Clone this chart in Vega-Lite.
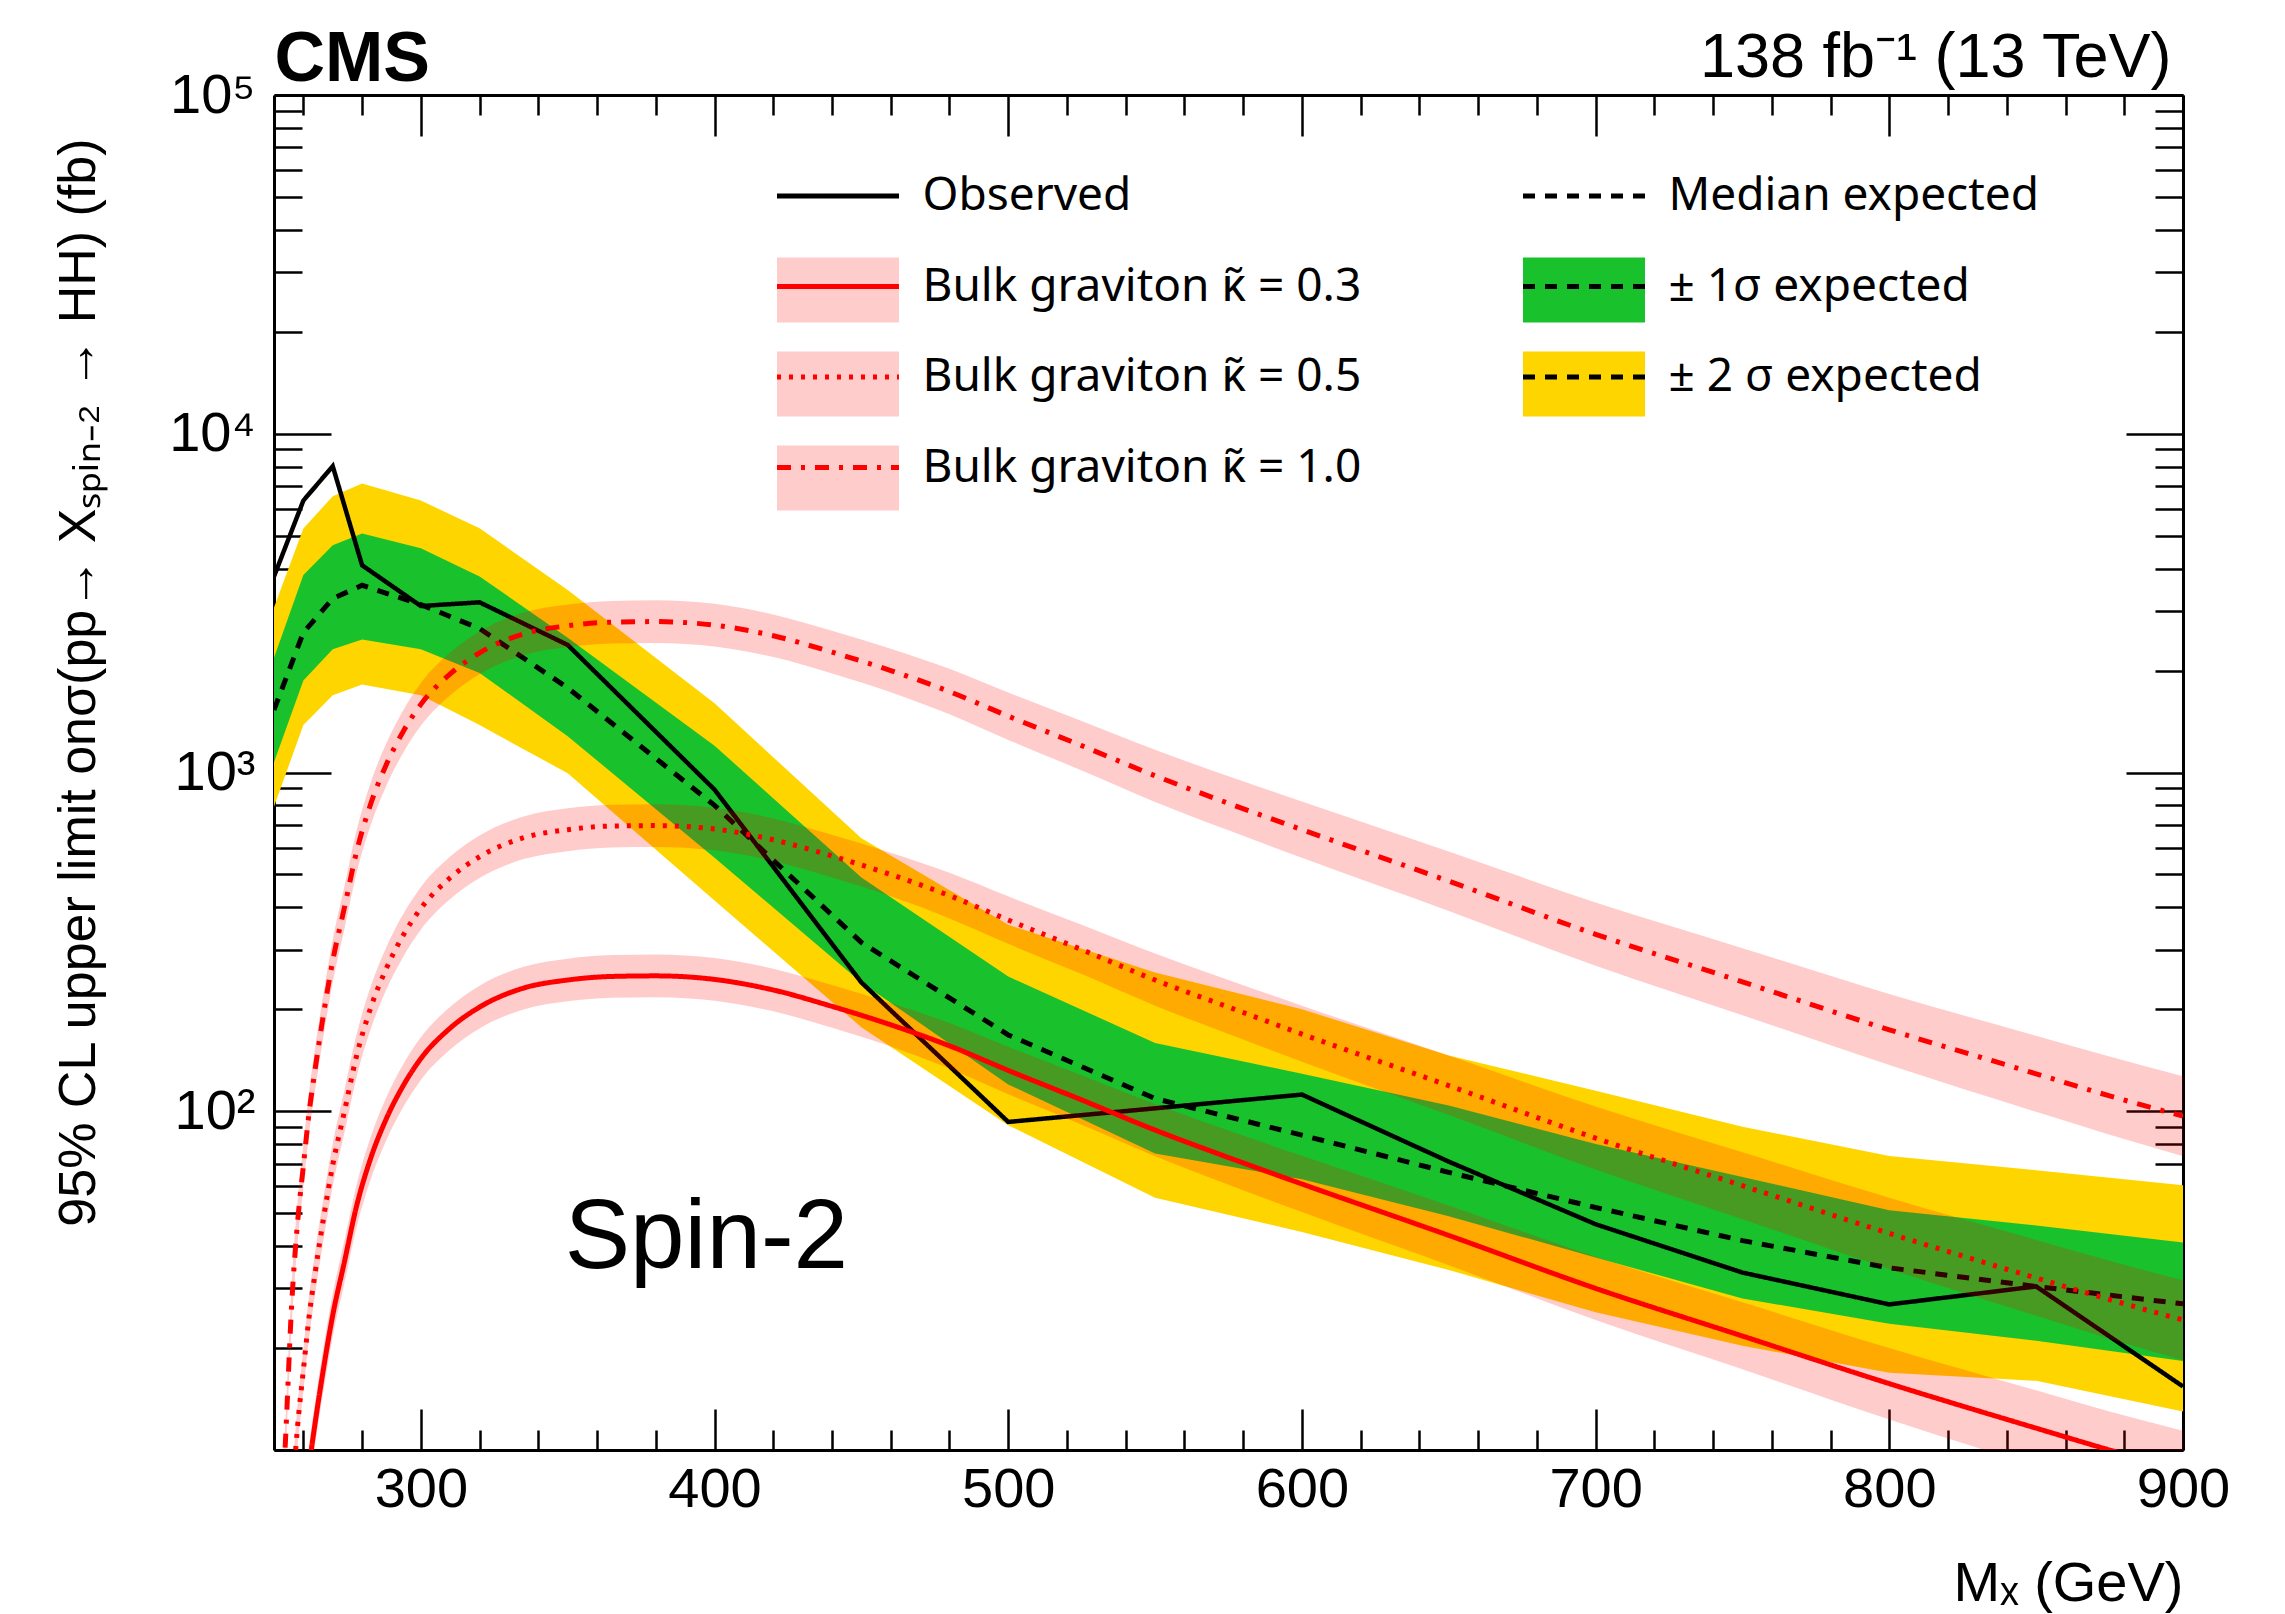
{
  "$schema": "https://vega.github.io/schema/vega-lite/v6.json",
  "width": 1909,
  "height": 1355,
  "autosize": {"type": "none"},
  "padding": {"left": 274, "top": 95, "right": 102, "bottom": 164},
  "background": "white",
  "config": {
    "view": {"stroke": null},
    "font": "Liberation Sans",
    "axis": {"grid": false, "domain": false, "domainColor": "black", "domainWidth": 3, "tickColor": "black", "tickWidth": 2.5, "labelColor": "black", "labelFont": "Liberation Sans", "labelFontSize": 56, "labelFlush": false, "labelOverlap": false, "titleFont": "Liberation Sans", "titleColor": "black", "titleFontWeight": "normal", "zindex": 1},
    "legend": {"labelFont": "Noto Sans", "labelFontSize": 46, "labelColor": "black", "labelLimit": 2000, "padding": 0, "title": null}
  },
  "datasets": {
    "exp": [
      {"m": 250, "lo2": 793, "lo1": 1073, "exp": 1530, "hi1": 2180, "hi2": 3070, "obs": 3790},
      {"m": 260, "lo2": 1380, "lo1": 1870, "exp": 2590, "hi1": 3830, "hi2": 5250, "obs": 6350},
      {"m": 270, "lo2": 1690, "lo1": 2310, "exp": 3260, "hi1": 4690, "hi2": 6540, "obs": 8020},
      {"m": 280, "lo2": 1820, "lo1": 2470, "exp": 3570, "hi1": 5080, "hi2": 7130, "obs": 4090},
      {"m": 300, "lo2": 1690, "lo1": 2310, "exp": 3130, "hi1": 4590, "hi2": 6350, "obs": 3100},
      {"m": 320, "lo2": 1380, "lo1": 1967, "exp": 2660, "hi1": 3790, "hi2": 5260, "obs": 3180},
      {"m": 350, "lo2": 995, "lo1": 1280, "exp": 1778, "hi1": 2500, "hi2": 3460, "obs": 2380},
      {"m": 400, "lo2": 419, "lo1": 560, "exp": 800, "hi1": 1200, "hi2": 1600, "obs": 890},
      {"m": 450, "lo2": 177, "lo1": 240, "exp": 315, "hi1": 490, "hi2": 640, "obs": 240},
      {"m": 500, "lo2": 91, "lo1": 120, "exp": 168, "hi1": 250, "hi2": 355, "obs": 93},
      {"m": 550, "lo2": 55.5, "lo1": 75, "exp": 109, "hi1": 159, "hi2": 257, "obs": 102},
      {"m": 600, "lo2": 44, "lo1": 63, "exp": 85, "hi1": 129, "hi2": 200, "obs": 112},
      {"m": 650, "lo2": 34, "lo1": 49, "exp": 66, "hi1": 104, "hi2": 146, "obs": 71},
      {"m": 700, "lo2": 25.5, "lo1": 37, "exp": 52, "hi1": 80, "hi2": 115, "obs": 46.4},
      {"m": 750, "lo2": 20.3, "lo1": 28, "exp": 41.5, "hi1": 64, "hi2": 90, "obs": 33.4},
      {"m": 800, "lo2": 16.9, "lo1": 23.6, "exp": 34.5, "hi1": 51, "hi2": 73.8, "obs": 26.9},
      {"m": 850, "lo2": 16, "lo1": 21, "exp": 30.4, "hi1": 46, "hi2": 67, "obs": 30.4},
      {"m": 900, "lo2": 13, "lo1": 18.3, "exp": 27, "hi1": 41, "hi2": 60.5, "obs": 15.4}
    ],
    "th": [
      {"m": 250, "k": "0.3", "xs": 0.15, "lo": 0.13, "hi": 0.173},
      {"m": 252, "k": "0.3", "xs": 0.45, "lo": 0.389, "hi": 0.52},
      {"m": 254, "k": "0.3", "xs": 1.0, "lo": 0.865, "hi": 1.156},
      {"m": 256, "k": "0.3", "xs": 2.4, "lo": 2.08, "hi": 2.77},
      {"m": 258, "k": "0.3", "xs": 4.2, "lo": 3.63, "hi": 4.86},
      {"m": 260, "k": "0.3", "xs": 6.2, "lo": 5.36, "hi": 7.17},
      {"m": 262, "k": "0.3", "xs": 9.0, "lo": 7.79, "hi": 10.4},
      {"m": 264, "k": "0.3", "xs": 12, "lo": 10.4, "hi": 13.9},
      {"m": 267, "k": "0.3", "xs": 17.7, "lo": 15.3, "hi": 20.5},
      {"m": 270, "k": "0.3", "xs": 25, "lo": 21.6, "hi": 28.9},
      {"m": 274, "k": "0.3", "xs": 36, "lo": 31.1, "hi": 41.6},
      {"m": 278, "k": "0.3", "xs": 52, "lo": 45.0, "hi": 60.1},
      {"m": 283, "k": "0.3", "xs": 73, "lo": 63.2, "hi": 84.4},
      {"m": 288, "k": "0.3", "xs": 94, "lo": 81.3, "hi": 108.7},
      {"m": 294, "k": "0.3", "xs": 119, "lo": 102.9, "hi": 137.6},
      {"m": 300, "k": "0.3", "xs": 143, "lo": 123.7, "hi": 165.3},
      {"m": 310, "k": "0.3", "xs": 176, "lo": 152.2, "hi": 203.5},
      {"m": 320, "k": "0.3", "xs": 203, "lo": 175.6, "hi": 234.7},
      {"m": 335, "k": "0.3", "xs": 231, "lo": 199.8, "hi": 267},
      {"m": 350, "k": "0.3", "xs": 244, "lo": 211.1, "hi": 282.1},
      {"m": 365, "k": "0.3", "xs": 250, "lo": 216.3, "hi": 289},
      {"m": 380, "k": "0.3", "xs": 251, "lo": 217.1, "hi": 290.2},
      {"m": 400, "k": "0.3", "xs": 245, "lo": 211.9, "hi": 283.2},
      {"m": 420, "k": "0.3", "xs": 228, "lo": 197.2, "hi": 263.6},
      {"m": 440, "k": "0.3", "xs": 204, "lo": 176.5, "hi": 235.8},
      {"m": 460, "k": "0.3", "xs": 180, "lo": 155.3, "hi": 208.6},
      {"m": 480, "k": "0.3", "xs": 156, "lo": 133.7, "hi": 182.1},
      {"m": 500, "k": "0.3", "xs": 132, "lo": 112.3, "hi": 155.1},
      {"m": 525, "k": "0.3", "xs": 108, "lo": 91.3, "hi": 127.8},
      {"m": 550, "k": "0.3", "xs": 88, "lo": 73.7, "hi": 105.1},
      {"m": 575, "k": "0.3", "xs": 73, "lo": 60.7, "hi": 87.7},
      {"m": 600, "k": "0.3", "xs": 61, "lo": 50.4, "hi": 73.9},
      {"m": 650, "k": "0.3", "xs": 43, "lo": 35.1, "hi": 52.7},
      {"m": 700, "k": "0.3", "xs": 30, "lo": 24.2, "hi": 37.2},
      {"m": 750, "k": "0.3", "xs": 21.7, "lo": 17.3, "hi": 27.3},
      {"m": 800, "k": "0.3", "xs": 15.7, "lo": 12.3, "hi": 20.0},
      {"m": 850, "k": "0.3", "xs": 11.6, "lo": 8.96, "hi": 15.0},
      {"m": 875, "k": "0.3", "xs": 10.0, "lo": 7.67, "hi": 13.0},
      {"m": 900, "k": "0.3", "xs": 8.7, "lo": 6.63, "hi": 11.4},
      {"m": 250, "k": "0.5", "xs": 0.417, "lo": 0.361, "hi": 0.482},
      {"m": 252, "k": "0.5", "xs": 1.25, "lo": 1.08, "hi": 1.445},
      {"m": 254, "k": "0.5", "xs": 2.78, "lo": 2.40, "hi": 3.21},
      {"m": 256, "k": "0.5", "xs": 6.67, "lo": 5.77, "hi": 7.71},
      {"m": 258, "k": "0.5", "xs": 11.67, "lo": 10.09, "hi": 13.49},
      {"m": 260, "k": "0.5", "xs": 17.2, "lo": 14.9, "hi": 19.9},
      {"m": 262, "k": "0.5", "xs": 25.0, "lo": 21.6, "hi": 28.9},
      {"m": 264, "k": "0.5", "xs": 33.3, "lo": 28.8, "hi": 38.5},
      {"m": 267, "k": "0.5", "xs": 49.2, "lo": 42.5, "hi": 56.8},
      {"m": 270, "k": "0.5", "xs": 69.4, "lo": 60.1, "hi": 80.3},
      {"m": 274, "k": "0.5", "xs": 100, "lo": 86.5, "hi": 115.6},
      {"m": 278, "k": "0.5", "xs": 144.4, "lo": 125, "hi": 167},
      {"m": 283, "k": "0.5", "xs": 203, "lo": 175.4, "hi": 234.4},
      {"m": 288, "k": "0.5", "xs": 261, "lo": 225.9, "hi": 301.9},
      {"m": 294, "k": "0.5", "xs": 331, "lo": 286, "hi": 382},
      {"m": 300, "k": "0.5", "xs": 397, "lo": 343.6, "hi": 459.2},
      {"m": 310, "k": "0.5", "xs": 489, "lo": 423, "hi": 565},
      {"m": 320, "k": "0.5", "xs": 564, "lo": 488, "hi": 652},
      {"m": 335, "k": "0.5", "xs": 642, "lo": 555, "hi": 742},
      {"m": 350, "k": "0.5", "xs": 678, "lo": 586, "hi": 784},
      {"m": 365, "k": "0.5", "xs": 695, "lo": 601, "hi": 803},
      {"m": 380, "k": "0.5", "xs": 697, "lo": 603, "hi": 806},
      {"m": 400, "k": "0.5", "xs": 681, "lo": 589, "hi": 787},
      {"m": 420, "k": "0.5", "xs": 633, "lo": 548, "hi": 732},
      {"m": 440, "k": "0.5", "xs": 567, "lo": 490, "hi": 655},
      {"m": 460, "k": "0.5", "xs": 500, "lo": 431, "hi": 580},
      {"m": 480, "k": "0.5", "xs": 433, "lo": 371, "hi": 506},
      {"m": 500, "k": "0.5", "xs": 367, "lo": 312, "hi": 431},
      {"m": 525, "k": "0.5", "xs": 300, "lo": 254, "hi": 355},
      {"m": 550, "k": "0.5", "xs": 244, "lo": 205, "hi": 292},
      {"m": 575, "k": "0.5", "xs": 203, "lo": 169, "hi": 244},
      {"m": 600, "k": "0.5", "xs": 169, "lo": 140, "hi": 205},
      {"m": 650, "k": "0.5", "xs": 119, "lo": 97.5, "hi": 146},
      {"m": 700, "k": "0.5", "xs": 83.3, "lo": 67.3, "hi": 103.3},
      {"m": 750, "k": "0.5", "xs": 60.3, "lo": 48.0, "hi": 75.7},
      {"m": 800, "k": "0.5", "xs": 43.6, "lo": 34.2, "hi": 55.5},
      {"m": 850, "k": "0.5", "xs": 32.2, "lo": 24.9, "hi": 41.7},
      {"m": 875, "k": "0.5", "xs": 27.8, "lo": 21.3, "hi": 36.2},
      {"m": 900, "k": "0.5", "xs": 24.2, "lo": 18.4, "hi": 31.7},
      {"m": 250, "k": "1.0", "xs": 1.67, "lo": 1.44, "hi": 1.93},
      {"m": 252, "k": "1.0", "xs": 5.0, "lo": 4.33, "hi": 5.78},
      {"m": 254, "k": "1.0", "xs": 11.1, "lo": 9.61, "hi": 12.84},
      {"m": 256, "k": "1.0", "xs": 26.7, "lo": 23.1, "hi": 30.8},
      {"m": 258, "k": "1.0", "xs": 46.7, "lo": 40.4, "hi": 53.9},
      {"m": 260, "k": "1.0", "xs": 68.9, "lo": 59.6, "hi": 79.6},
      {"m": 262, "k": "1.0", "xs": 100, "lo": 86.5, "hi": 115.6},
      {"m": 264, "k": "1.0", "xs": 133, "lo": 115.3, "hi": 154.1},
      {"m": 267, "k": "1.0", "xs": 197, "lo": 170, "hi": 227},
      {"m": 270, "k": "1.0", "xs": 278, "lo": 240, "hi": 321},
      {"m": 274, "k": "1.0", "xs": 400, "lo": 346, "hi": 462},
      {"m": 278, "k": "1.0", "xs": 578, "lo": 500, "hi": 668},
      {"m": 283, "k": "1.0", "xs": 811, "lo": 702, "hi": 938},
      {"m": 288, "k": "1.0", "xs": 1044, "lo": 903, "hi": 1207},
      {"m": 294, "k": "1.0", "xs": 1322, "lo": 1144, "hi": 1528},
      {"m": 300, "k": "1.0", "xs": 1589, "lo": 1374, "hi": 1837},
      {"m": 310, "k": "1.0", "xs": 1955, "lo": 1691, "hi": 2260},
      {"m": 320, "k": "1.0", "xs": 2255, "lo": 1951, "hi": 2607},
      {"m": 335, "k": "1.0", "xs": 2566, "lo": 2220, "hi": 2967},
      {"m": 350, "k": "1.0", "xs": 2711, "lo": 2345, "hi": 3134},
      {"m": 365, "k": "1.0", "xs": 2778, "lo": 2403, "hi": 3211},
      {"m": 380, "k": "1.0", "xs": 2789, "lo": 2412, "hi": 3224},
      {"m": 400, "k": "1.0", "xs": 2722, "lo": 2355, "hi": 3147},
      {"m": 420, "k": "1.0", "xs": 2533, "lo": 2191, "hi": 2928},
      {"m": 440, "k": "1.0", "xs": 2266, "lo": 1961, "hi": 2620},
      {"m": 460, "k": "1.0", "xs": 2000, "lo": 1726, "hi": 2318},
      {"m": 480, "k": "1.0", "xs": 1733, "lo": 1485, "hi": 2023},
      {"m": 500, "k": "1.0", "xs": 1467, "lo": 1248, "hi": 1723},
      {"m": 525, "k": "1.0", "xs": 1200, "lo": 1014, "hi": 1420},
      {"m": 550, "k": "1.0", "xs": 978, "lo": 819, "hi": 1167},
      {"m": 575, "k": "1.0", "xs": 811, "lo": 675, "hi": 975},
      {"m": 600, "k": "1.0", "xs": 678, "lo": 560, "hi": 821},
      {"m": 650, "k": "1.0", "xs": 478, "lo": 390, "hi": 585},
      {"m": 700, "k": "1.0", "xs": 333, "lo": 269, "hi": 413},
      {"m": 750, "k": "1.0", "xs": 241, "lo": 192, "hi": 303},
      {"m": 800, "k": "1.0", "xs": 174, "lo": 137, "hi": 222},
      {"m": 850, "k": "1.0", "xs": 129, "lo": 99.6, "hi": 167},
      {"m": 875, "k": "1.0", "xs": 111, "lo": 85.3, "hi": 145},
      {"m": 900, "k": "1.0", "xs": 96.7, "lo": 73.7, "hi": 126.8}
    ]
  },
  "layer": [
    {
      "data": {"name": "exp"},
      "layer": [
        {
          "mark": {"type": "area", "clip": true, "opacity": 1},
          "encoding": {
            "x": {"field": "m", "type": "quantitative", "scale": {"domain": [250, 900], "nice": false, "zero": false},
              "axis": {"orient": "bottom", "domain": true, "values": [300, 400, 500, 600, 700, 800, 900], "tickSize": -41, "labelPadding": 53, "title": "M\u2093 (GeV)", "titleFontSize": 56, "titleX": 1909, "titleY": 150, "titleAlign": "right", "titleBaseline": "alphabetic"}},
            "y": {"field": "lo2", "type": "quantitative", "scale": {"type": "log", "domain": [10, 100000], "nice": false},
              "axis": {"orient": "left", "domain": true, "values": [10, 100, 1000, 10000, 100000], "tickSize": -57, "labelPadding": 76, "labelExpr": "datum.value == 100 ? '10\u00b2' : datum.value == 1000 ? '10\u00b3' : datum.value == 10000 ? '10\u2074' : datum.value == 100000 ? '10\u2075' : ''", "title": "95% CL upper limit on\u03c3(pp\u2192 X\u209b\u209a\u1d62\u2099\u208b\u2082 \u2192 HH) (fb)", "titleFontSize": 52, "titleAngle": -90, "titleX": -180, "titleY": 43, "titleAlign": "right", "titleBaseline": "alphabetic"}},
            "y2": {"field": "hi2"},
            "fill": {"datum": "\u00b1 2 \u03c3 expected", "type": "nominal",
              "scale": {"domain": ["Median expected", "\u00b1 1\u03c3 expected", "\u00b1 2 \u03c3 expected"], "range": ["transparent", "#19c22c", "#ffd500"]},
              "legend": {"orient": "none", "legendX": 1249, "legendY": 40, "title": null, "symbolType": "M-1,-0.533L1,-0.533L1,0.533L-1,0.533Z", "symbolSize": 14884, "symbolStrokeWidth": 0, "rowPadding": -3.5, "labelExpr": "''", "labelOffset": 26}}
          }
        },
        {
          "mark": {"type": "area", "clip": true, "opacity": 1},
          "encoding": {
            "x": {"field": "m", "type": "quantitative", "scale": {"domain": [250, 900], "nice": false, "zero": false}, "axis": null},
            "y": {"field": "lo1", "type": "quantitative", "scale": {"type": "log", "domain": [10, 100000], "nice": false}, "axis": null},
            "y2": {"field": "hi1"},
            "fill": {"datum": "\u00b1 1\u03c3 expected", "type": "nominal"}
          }
        }
      ],
      "resolve": {"axis": {"x": "independent", "y": "independent"}}
    },
    {
      "data": {"name": "exp"},
      "mark": {"type": "line", "clip": true, "stroke": "black", "strokeWidth": 5},
      "encoding": {
        "x": {"field": "m", "type": "quantitative", "scale": {"domain": [250, 900], "nice": false, "zero": false},
          "axis": {"orient": "top", "domain": true, "values": [300, 400, 500, 600, 700, 800, 900], "tickSize": -41, "labels": false, "title": "138 fb\u207b\u00b9 (13 TeV)", "titleFontSize": 63, "titleX": 1897, "titleY": -19, "titleAlign": "right", "titleBaseline": "alphabetic"}},
        "y": {"field": "exp", "type": "quantitative", "scale": {"type": "log", "domain": [10, 100000], "nice": false},
          "axis": {"orient": "right", "domain": true, "values": [10, 100, 1000, 10000, 100000], "tickSize": -57, "labels": false, "title": null}},
        "strokeDash": {"datum": "Median expected", "type": "nominal",
          "scale": {"domain": ["Median expected", "\u00b1 1\u03c3 expected", "\u00b1 2 \u03c3 expected"], "range": [[12, 10], [12, 10], [12, 10]]},
          "legend": {"orient": "none", "legendX": 1246.5, "legendY": 37.5, "title": null, "symbolType": "stroke", "symbolSize": 14884, "symbolStrokeWidth": 5, "symbolStrokeColor": "black", "rowPadding": 3.5, "labelOffset": 21}}
      }
    },
    {
      "layer": [
        {
          "data": {"name": "exp"},
          "mark": {"type": "line", "clip": true, "strokeWidth": 4.5},
          "encoding": {
            "x": {"field": "m", "type": "quantitative", "scale": {"domain": [250, 900], "nice": false, "zero": false},
              "axis": {"orient": "bottom", "values": [260, 280, 320, 340, 360, 380, 420, 440, 460, 480, 520, 540, 560, 580, 620, 640, 660, 680, 720, 740, 760, 780, 820, 840, 860, 880], "tickSize": -20, "labels": false, "title": null}},
            "y": {"field": "obs", "type": "quantitative", "scale": {"type": "log", "domain": [10, 100000], "nice": false},
              "axis": {"orient": "left", "values": [20, 30, 40, 50, 60, 70, 80, 90, 200, 300, 400, 500, 600, 700, 800, 900, 2000, 3000, 4000, 5000, 6000, 7000, 8000, 9000, 20000, 30000, 40000, 50000, 60000, 70000, 80000, 90000], "tickSize": -28, "labels": false, "title": null}},
            "stroke": {"datum": "Observed", "type": "nominal",
              "scale": {"domain": ["Observed", "0.3", "0.5", "1.0"], "range": ["black", "#ff0000", "#ff0000", "#ff0000"]},
              "legend": {"orient": "none", "legendX": 500.5, "legendY": 37.5, "title": null, "symbolType": "stroke", "symbolSize": 14884, "symbolStrokeWidth": 5, "rowPadding": 3.5, "labelOffset": 21, "labelExpr": "datum.label == 'Observed' ? 'Observed' : 'Bulk graviton \u03ba\u0303 = ' + datum.label"}},
            "strokeDash": {"datum": "Observed", "type": "nominal",
              "scale": {"domain": ["Observed", "0.3", "0.5", "1.0"], "range": [[1, 0], [1, 0], [4, 8], [14, 10, 4, 10]]},
              "legend": {"orient": "none", "legendX": 500.5, "legendY": 37.5, "title": null, "symbolType": "stroke", "symbolSize": 14884, "symbolStrokeWidth": 5, "rowPadding": 3.5, "labelOffset": 21, "labelExpr": "datum.label == 'Observed' ? 'Observed' : 'Bulk graviton \u03ba\u0303 = ' + datum.label"}}
          }
        },
        {
          "data": {"name": "th"},
          "mark": {"type": "area", "clip": true, "interpolate": "monotone", "opacity": 1},
          "encoding": {
            "x": {"field": "m", "type": "quantitative", "scale": {"domain": [250, 900], "nice": false, "zero": false}, "axis": null},
            "y": {"field": "lo", "type": "quantitative", "scale": {"type": "log", "domain": [10, 100000], "nice": false}, "axis": null},
            "y2": {"field": "hi"},
            "fill": {"field": "k", "type": "nominal",
              "scale": {"domain": ["Observed box", "0.3", "0.5", "1.0"], "range": ["transparent", "rgba(255,0,0,0.2)", "rgba(255,0,0,0.2)", "rgba(255,0,0,0.2)"]},
              "legend": {"orient": "none", "legendX": 503, "legendY": 40, "title": null, "symbolType": "M-1,-0.533L1,-0.533L1,0.533L-1,0.533Z", "symbolSize": 14884, "symbolStrokeWidth": 0, "rowPadding": -3.5, "labelExpr": "''", "labelOffset": 26}}
          }
        },
        {
          "data": {"name": "th"},
          "mark": {"type": "line", "clip": true, "interpolate": "monotone", "strokeWidth": 5},
          "encoding": {
            "x": {"field": "m", "type": "quantitative", "scale": {"domain": [250, 900], "nice": false, "zero": false},
              "axis": {"orient": "top", "values": [260, 280, 320, 340, 360, 380, 420, 440, 460, 480, 520, 540, 560, 580, 620, 640, 660, 680, 720, 740, 760, 780, 820, 840, 860, 880], "tickSize": -20, "labels": false, "title": "CMS", "titleFontSize": 70, "titleFontWeight": "bold", "titleX": 0, "titleY": -15, "titleAlign": "left", "titleBaseline": "alphabetic"}},
            "y": {"field": "xs", "type": "quantitative", "scale": {"type": "log", "domain": [10, 100000], "nice": false},
              "axis": {"orient": "right", "values": [20, 30, 40, 50, 60, 70, 80, 90, 200, 300, 400, 500, 600, 700, 800, 900, 2000, 3000, 4000, 5000, 6000, 7000, 8000, 9000, 20000, 30000, 40000, 50000, 60000, 70000, 80000, 90000], "tickSize": -28, "labels": false, "title": null}},
            "stroke": {"field": "k", "type": "nominal", "legend": {"title": null}},
            "strokeDash": {"field": "k", "type": "nominal", "legend": {"title": null}}
          }
        }
      ],
      "resolve": {"axis": {"x": "independent", "y": "independent"}}
    },
    {
      "data": {"values": [{}]},
      "mark": {"type": "text", "text": "Spin-2", "align": "left", "baseline": "alphabetic", "fontSize": 98, "font": "Liberation Sans", "color": "black"},
      "encoding": {
        "x": {"datum": 349, "type": "quantitative", "scale": {"domain": [250, 900], "nice": false, "zero": false}, "axis": null},
        "y": {"datum": 34.5, "type": "quantitative", "scale": {"type": "log", "domain": [10, 100000], "nice": false}, "axis": null}
      }
    }
  ],
  "resolve": {
    "scale": {"fill": "independent", "strokeDash": "independent", "stroke": "independent"},
    "axis": {"x": "independent", "y": "independent"}
  }
}
